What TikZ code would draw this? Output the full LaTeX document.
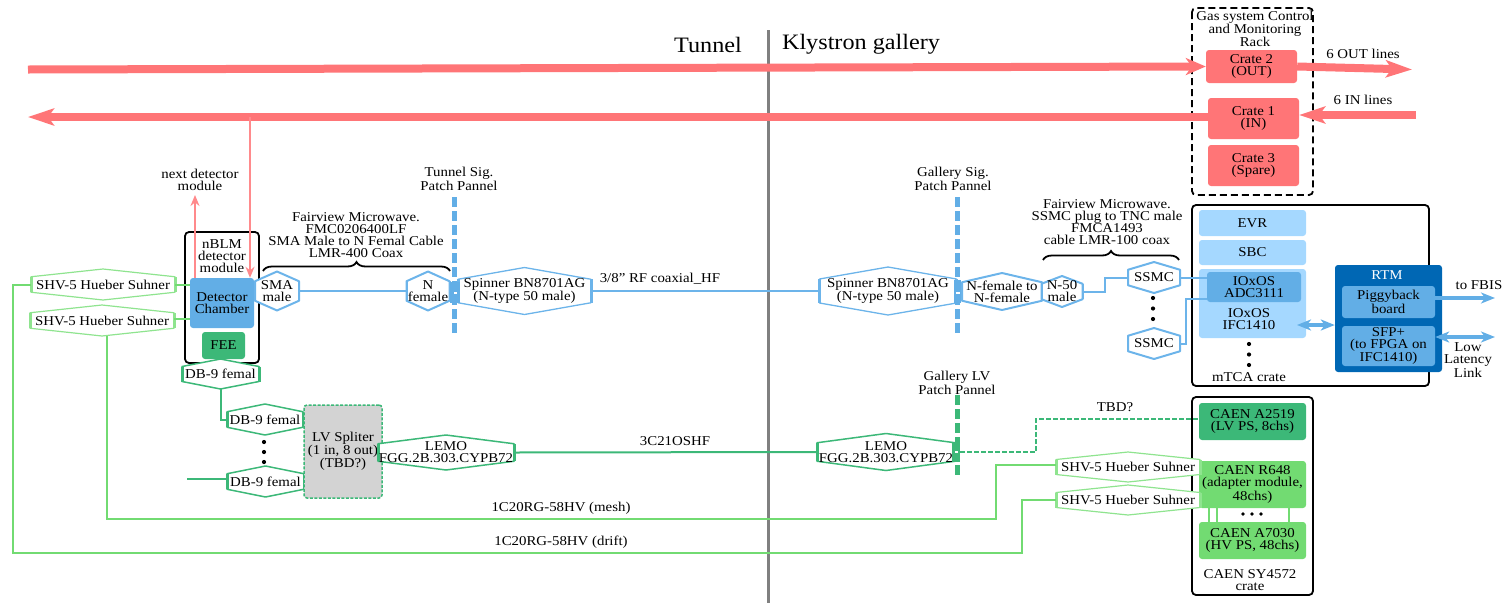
\documentclass[tikz,border=0pt]{standalone}
\usepackage{fontspec}
\setmainfont[FakeStretch=1.1]{Liberation Serif}
\usetikzlibrary{arrows.meta,decorations.pathreplacing,calc}
\definecolor{redc}{HTML}{FF7577}
\definecolor{redl}{HTML}{FF8A8C}
\definecolor{blu}{HTML}{62AEE6}
\definecolor{blul}{HTML}{A5D8FF}
\definecolor{bluh}{HTML}{6CB4EA}
\definecolor{rtmc}{HTML}{0067B4}
\definecolor{lvg}{HTML}{3CB878}
\definecolor{hvg}{HTML}{72DB72}
\definecolor{hvl}{HTML}{8FE48F}
\definecolor{grayd}{HTML}{808080}
\definecolor{grayf}{HTML}{D3D3D3}
\tikzset{
  x=1pt,y=-1pt,
  txt/.style={inner sep=0pt,align=center,font=\fontsize{13.5}{12}\selectfont},
  framebox/.style={draw=black,line width=1.8pt,rounded corners=4pt},
  patchline/.style={line width=5pt,dash pattern=on 10pt off 4pt},
  sig/.style={draw=bluh,line width=2pt},
  lv/.style={draw=lvg,line width=2pt},
  hv/.style={draw=hvg,line width=2pt},
  fatred/.style={draw=redc,line width=8pt},
  thinred/.style={draw=redl,line width=2pt,-{Stealth[length=11pt,width=9pt]}},
  fatblue/.style={draw=blu,line width=4pt},
  dotb/.style={fill=black,circle,inner sep=0pt,minimum size=4.2pt},
}
% name, x, y, w, h, colour, line width, side width, text
\newcommand{\hexn}[9]{%
  \filldraw[fill=white,draw=#6,line width=#7pt,line join=round]
    (#2-#4/2,#3-#5/4) -- (#2,#3-#5/2) -- (#2+#4/2,#3-#5/4)
    -- (#2+#4/2,#3+#5/4) -- (#2,#3+#5/2) -- (#2-#4/2,#3+#5/4) -- cycle;
  \draw[draw=#6,line width=#8pt] (#2-#4/2,#3-#5/4) -- (#2-#4/2,#3+#5/4)
     (#2+#4/2,#3-#5/4) -- (#2+#4/2,#3+#5/4);
  \node[txt,minimum width=#4pt,minimum height=#5pt] (#1) at (#2,#3) {#9};}
\newcommand{\boxn}[7]{% name,x0,y0,x1,y1,fill,text
  \node[txt,rounded corners=3pt,fill=#6,minimum width=#4pt-#2pt,minimum height=#5pt-#3pt]
    (#1) at ({(#2+#4)/2},{(#3+#5)/2}) {#7};}
% patch-panel junction block: colour, x0,y0,x1,y1, white-dash y
\newcommand{\junct}[6]{%
  \fill[#1] (#2,#3) rectangle (#4,#5);
  \fill[white] ({(#2+#4)/2-1.5},#6-1) rectangle ({(#2+#4)/2+2},#6+1);}
\begin{document}
\begin{tikzpicture}
\useasboundingbox (0,0) rectangle (1507,603);

% divider and headings
\coordinate (divt) at (768,30); \coordinate (divb) at (768,603);
\draw[draw=grayd,line width=3pt] (divt) -- (divb);
\node[txt,font=\fontsize{22}{24}\selectfont] (tun) at (708,45) {Tunnel};
\node[txt,font=\fontsize{22}{24}\selectfont] (kly) at (861,44) {Klystron gallery};

% frames
\draw[framebox,dashed,dash pattern=on 7pt off 4pt] (1192,8) rectangle (1313,195);
\draw[framebox] (1192,205) rectangle (1429,386);
\draw[framebox] (1192,397) rectangle (1313,595);
\draw[framebox] (185,232) rectangle (259,363);
\coordinate (rk) at (1255,29);
\node[txt] (rack) at (rk) {Gas system Control\\and Monitoring\\Rack};

% crates
\boxn{c2}{1206}{50}{1297}{83}{redc}{Crate 2\\(OUT)}
\boxn{c1}{1208}{98}{1299}{139}{redc}{Crate 1\\(IN)}
\boxn{c3}{1208}{145}{1299}{186}{redc}{Crate 3\\(Spare)}
\coordinate (outs) at (28,69.5); \coordinate (oute) at (1412,69.5);
\coordinate (ins) at (1416,115); \coordinate (ine) at (28,117);
\draw[fatred,-{Stealth[length=20pt,width=17pt,inset=6pt]}] (outs) -- (c2.west);
\draw[fatred,-{Stealth[length=26pt,width=17pt,inset=6pt]}] (c2.east) -- (oute);
\draw[fatred,-{Stealth[length=26pt,width=17pt,inset=6pt]}] (ins) -- (c1.east |- ins);
\draw[fatred,-{Stealth[length=26pt,width=17pt,inset=6pt]}] (c1.west |- ine) -- (ine);
\node[txt] (outl) at (1363,54) {6 OUT lines};
\node[txt] (inl) at (1363,100) {6 IN lines};

% detector module
\boxn{dc}{190}{278}{254}{328}{blu}{Detector\\Chamber}
\boxn{fee}{202}{332}{245}{359}{lvg}{FEE}
\node[txt] (nb) at (222,256) {nBLM\\detector\\module};
\coordinate (rt) at (250,117);
\draw[thinred] (rt) -- (rt |- dc.north);
\coordinate (nxt) at (195,195);
\draw[thinred] (nxt |- dc.north) -- (nxt);
\node[txt] (nl) at (200,180) {next detector\\module};

% HV connectors, tunnel
\hexn{shv1}{103}{284.5}{144}{31}{hvl}{1.2}{3}{SHV-5 Hueber Suhner}
\hexn{shv2}{102}{320.5}{144}{31}{hvl}{1.2}{3}{SHV-5 Hueber Suhner}
\draw[hv] (shv1.east) -- (shv1.east -| dc.west);
\draw[hv] (shv2.east) ++(0,-2) -- ($(shv2.east -| dc.west)+(0,-2)$);

% signal chain
\hexn{sma}{277}{291}{44}{39}{bluh}{2}{2}{SMA\\male}
\hexn{nf}{428}{291}{43}{39}{bluh}{2}{2}{N\\female}
\hexn{sp1}{524.5}{291}{133}{47}{bluh}{1.3}{3}{Spinner BN8701AG\\(N-type 50 male)}
\hexn{sp2}{888}{291}{137}{48}{bluh}{1.3}{3}{Spinner BN8701AG\\(N-type 50 male)}
\hexn{nn}{1002}{291.5}{80}{37}{bluh}{2}{2}{N-female to\\N-female}
\hexn{n50}{1062}{291.5}{41}{31}{bluh}{2}{2}{N-50\\male}
\hexn{ss1}{1154}{277.5}{52}{31}{bluh}{2}{2}{SSMC}
\hexn{ss2}{1154}{343.5}{52}{31}{bluh}{2}{2}{SSMC}
\draw[sig] (sma.east) -- (nf.west);
\draw[sig] (sp1.east) -- (sp2.west);
\node[txt] (rf) at (660,279) {3/8'' RF coaxial\_HF};
\draw[sig] (n50.east) -- (1105,291.5) |- (ss1.west);
\node[dotb] (d1) at (1153,298) {}; \node[dotb] (d2) at (1153,308.5) {}; \node[dotb] (d3) at (1153,319) {};

% patch panels
\coordinate (tpt) at (454,197); \coordinate (tpb) at (454,333);
\coordinate (gpt) at (957,197); \coordinate (gpb) at (957,333);
\coordinate (lpt) at (957,395); \coordinate (lpb) at (957,475);
\draw[patchline,draw=blu] (tpt) -- (tpb);
\draw[patchline,draw=blu] (gpt) -- (gpb);
\junct{blu}{450}{282}{460}{303}{293}
\junct{blu}{954}{280}{961}{303}{293}
\node[txt] (tpl) at (459,179) {Tunnel Sig.\\Patch Pannel};
\node[txt] (gpl) at (953,179) {Gallery Sig.\\Patch Pannel};
\node[txt] (lpl) at (957,383) {Gallery LV\\Patch Pannel};

% braces
\coordinate (b1a) at (263,271); \coordinate (b1b) at (450,271);
\coordinate (b2a) at (1043,260); \coordinate (b2b) at (1179,260);
\draw[draw=black,line width=1.8pt,decorate,decoration={brace,amplitude=9pt}] (b1a) -- (b1b);
\draw[draw=black,line width=1.8pt,decorate,decoration={brace,amplitude=9pt}] (b2a) -- (b2b);
\node[txt] (b1t) at (356,235) {Fairview Microwave.\\FMC0206400LF\\SMA Male to N Femal Cable\\LMR-400 Coax};
\node[txt] (b2t) at (1107,222) {Fairview Microwave.\\SSMC plug to TNC male\\FMCA1493\\cable LMR-100 coax};

% mTCA crate
\boxn{evr}{1199}{210}{1306}{236}{blul}{EVR}
\boxn{sbc}{1199}{240}{1306}{265}{blul}{SBC}
\boxn{ifc}{1199}{269}{1306}{338}{blul}{}
\boxn{adc}{1207}{272}{1301}{302}{blu}{IOxOS\\ADC3111}
\node[txt] (ifct) at (1249,319) {IOxOS\\IFC1410};
\node[dotb] (d4) at (1249,344) {}; \node[dotb] (d5) at (1249,354.5) {}; \node[dotb] (d6) at (1249,365) {};
\node[txt] (mt) at (1249,377) {mTCA crate};
\draw[sig] (ss1.east) -- (ss1.east -| adc.west);
\coordinate (adcl) at (1207,299);
\draw[sig] (ss2.east) -| (1186,299) -- (adcl);

% RTM
\boxn{rtm}{1335}{265}{1442}{372}{rtmc}{}
\node[txt,text=white] (rtt) at (1387,275) {RTM};
\boxn{pig}{1342}{286}{1435}{318}{blu}{Piggyback\\board}
\boxn{sfp}{1342}{326}{1435}{366}{blu}{SFP+\\(to FPGA on\\IFC1410)}
\coordinate (iar) at (1297,325); \coordinate (far) at (1495,298); \coordinate (lar) at (1495,337);
\draw[fatblue,{Stealth[length=14pt,width=11pt,inset=4pt]}-{Stealth[length=14pt,width=11pt,inset=4pt]}] (iar) -- (rtm.west |- iar);
\draw[fatblue,-{Stealth[length=14pt,width=11pt,inset=4pt]}] (pig.east |- far) -- (far);
\draw[fatblue,{Stealth[length=14pt,width=11pt,inset=4pt]}-{Stealth[length=14pt,width=11pt,inset=4pt]}] (sfp.east |- lar) -- (lar);
\node[txt] (fb) at (1479,285) {to FBIS};
\node[txt] (ll) at (1468,360) {Low\\Latency\\Link};

% LV chain
\hexn{db1}{220.5}{374}{77}{30}{lvg}{1.5}{3}{DB-9 femal}
\hexn{db2}{265}{419.5}{76}{31}{lvg}{1.5}{3}{DB-9 femal}
\hexn{db3}{265.5}{481.5}{77}{31}{lvg}{1.5}{3}{DB-9 femal}
\node[dotb] (d7) at (264,442) {}; \node[dotb] (d8) at (264,452) {}; \node[dotb] (d9) at (264,462) {};
\draw[lv] (db1.south) |- (db2.west);
\coordinate (stub) at (187,479);
\draw[lv] (stub) -- (db3.west |- stub);
\node[txt,fill=grayf,rounded corners=3pt,draw=lvg,line width=1.5pt,dash pattern=on 3pt off 1.5pt,
   minimum width=78pt,minimum height=93pt] (spl) at (343,451.5) {LV Spliter\\(1 in, 8 out)\\(TBD?)};
\hexn{lm1}{446}{452.5}{136}{35}{lvg}{1.5}{3}{LEMO\\FGG.2B.303.CYPB72}
\hexn{lm2}{886}{452}{138}{37}{lvg}{1.5}{3}{LEMO\\FGG.2B.303.CYPB72}
\draw[lv] (lm1.east) -- (lm2.west);
\node[txt] (c3c) at (675,441) {3C21OSHF};
\draw[patchline,draw=lvg] (lpt) -- (lpb);
\junct{lvg}{952}{443}{960}{462}{452}

% CAEN crate
\boxn{a25}{1199}{403}{1306}{440}{lvg}{CAEN A2519\\(LV PS, 8chs)}
\boxn{r648}{1199}{461}{1306}{508}{hvg}{CAEN R648\\(adapter module,\\48chs)}
\boxn{a70}{1199}{522}{1306}{559}{hvg}{CAEN A7030\\(HV PS, 48chs)}
\node[txt] (sy) at (1250,580.5) {CAEN SY4572\\crate};
\foreach \cx/\cn in {1209/ca,1217/cb,1289/cc}{
  \draw[hv] (\cx,508) -- (\cx,522);}
\node[dotb,minimum size=3.8pt] (d10) at (1243,514) {};
\node[dotb,minimum size=3.8pt] (d11) at (1252,514) {};
\node[dotb,minimum size=3.8pt] (d12) at (1261,514) {};
\coordinate (tbdc) at (1036,419);
\draw[lv,dash pattern=on 5pt off 2pt] (960,452) -- (1036,452) -- (tbdc) -- (tbdc -| a25.west);
\node[txt] (tb) at (1115,407) {TBD?};
\hexn{shv3}{1128}{467}{144}{30}{hvl}{1.2}{3}{SHV-5 Hueber Suhner}
\hexn{shv4}{1128}{500}{144}{30}{hvl}{1.2}{3}{SHV-5 Hueber Suhner}
\coordinate (mb) at (107,336);
\draw[hv] (mb) |- (996,519) |- ($(shv3.west)+(0,-2)$);
\draw[hv] (shv1.west) -- (13,284.5) |- (1022,553) |- (shv4.west);
\node[txt] (mesh) at (561,508) {1C20RG-58HV (mesh)};
\node[txt] (drift) at (561,542) {1C20RG-58HV (drift)};
\end{tikzpicture}
\end{document}
